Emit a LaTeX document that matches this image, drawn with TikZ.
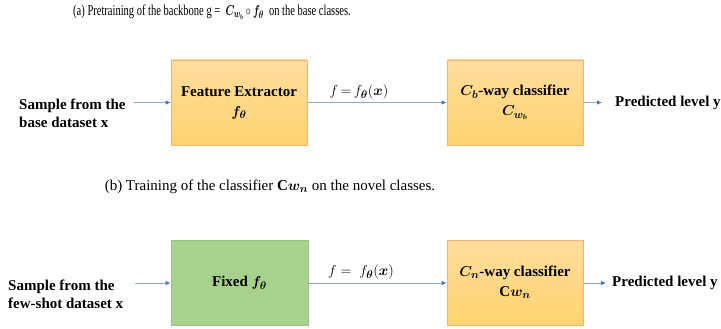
\documentclass[tikz,border=0pt]{standalone}
\usepackage{amsmath,bm,graphicx}
\usepackage{fontspec}
\setmainfont{Liberation Serif}
\usetikzlibrary{arrows.meta}
\definecolor{arrline}{HTML}{8FAADC}
\definecolor{arrhead}{HTML}{4472C4}
\definecolor{orTop}{HTML}{FFDD9E}
\definecolor{orBot}{HTML}{FFD36F}
\definecolor{orDraw}{HTML}{F2B27A}
\definecolor{grFill}{HTML}{A9D18E}
\definecolor{grDraw}{HTML}{9DBF88}
\tikzset{
  x=1pt, y=-1pt,
  lbl/.style={font=\fontsize{15}{18}\selectfont\bfseries, inner sep=0pt, align=left},
  ttl/.style={font=\fontsize{15}{18}\selectfont, inner sep=0pt},
  elbl/.style={font=\fontsize{15}{18}\selectfont, inner sep=0pt},
  orbox/.style={draw=orDraw, line width=0.8pt, top color=orTop, bottom color=orBot,
    minimum width=136pt, minimum height=85pt, align=center, inner sep=0pt,
    font=\fontsize{15}{18}\selectfont\bfseries},
  grbox/.style={draw=grDraw, line width=0.8pt, fill=grFill,
    minimum width=137pt, minimum height=85pt, align=center, inner sep=0pt,
    font=\fontsize{15}{18}\selectfont\bfseries},
  arr/.style={draw=arrline, line width=0.8pt, -{Latex[length=5pt,width=4.5pt,color=arrhead]}}
}
\begin{document}
\begin{tikzpicture}
\useasboundingbox (0,0) rectangle (721,329);
% titles
\node[ttl] (ta) at (212,12) {\scalebox{0.7}[1]{(a) Pretraining of the backbone g = \ $\bm{C_{w_b}}\circ\bm{f_\theta}$\ \ on the base classes.}};
\node[ttl] (tb) at (270,187) {(b) Training of the classifier $\mathbf{C}\bm{w_n}$ on the novel classes.};
% row a
\node[orbox] (b1) at (239,102.5) {Feature Extractor\\[2pt] $\bm{f_\theta}$};
\node[orbox] (b2) at (515,102.5) {$\bm{C_b}$-way classifier\\[2pt] $\bm{C_{w_b}}$};
\node[lbl, anchor=west] (in1) at (19,113) {Sample from the\\base dataset x};
\node[lbl, anchor=west] (out1) at (615,103) {Predicted level y};
\coordinate (s1) at (134,102.5);
\coordinate (e1) at (602,102.5);
\draw[arr] (s1) -- (b1.west);
\draw[arr] (b1.east) -- (b2.west);
\draw[arr] (b2.east) -- (e1);
\node[elbl] (l1) at (359,92) {$f\,{=}\,f_{\bm{\theta}}(\bm{x})$};
% row b
\node[grbox] (b3) at (239.5,283) {Fixed $\bm{f_\theta}$};
\node[orbox] (b4) at (515,282.5) {$\bm{C_n}$-way classifier\\[2pt] C$\bm{w_n}$};
\node[lbl, anchor=west] (in2) at (8,294) {Sample from the\\few-shot dataset x};
\node[lbl, anchor=west] (out2) at (612,283) {Predicted level y};
\coordinate (s2) at (135,283);
\coordinate (e2) at (606,283);
\draw[arr] (s2) -- (b3.west);
\draw[arr] (b3.east |- s2) -- (b4.west |- s2);
\draw[arr] (b4.east |- s2) -- (e2);
\node[elbl] (l2) at (361,272) {$f={}\ f_{\bm{\theta}}(\bm{x})$};
\end{tikzpicture}
\end{document}
